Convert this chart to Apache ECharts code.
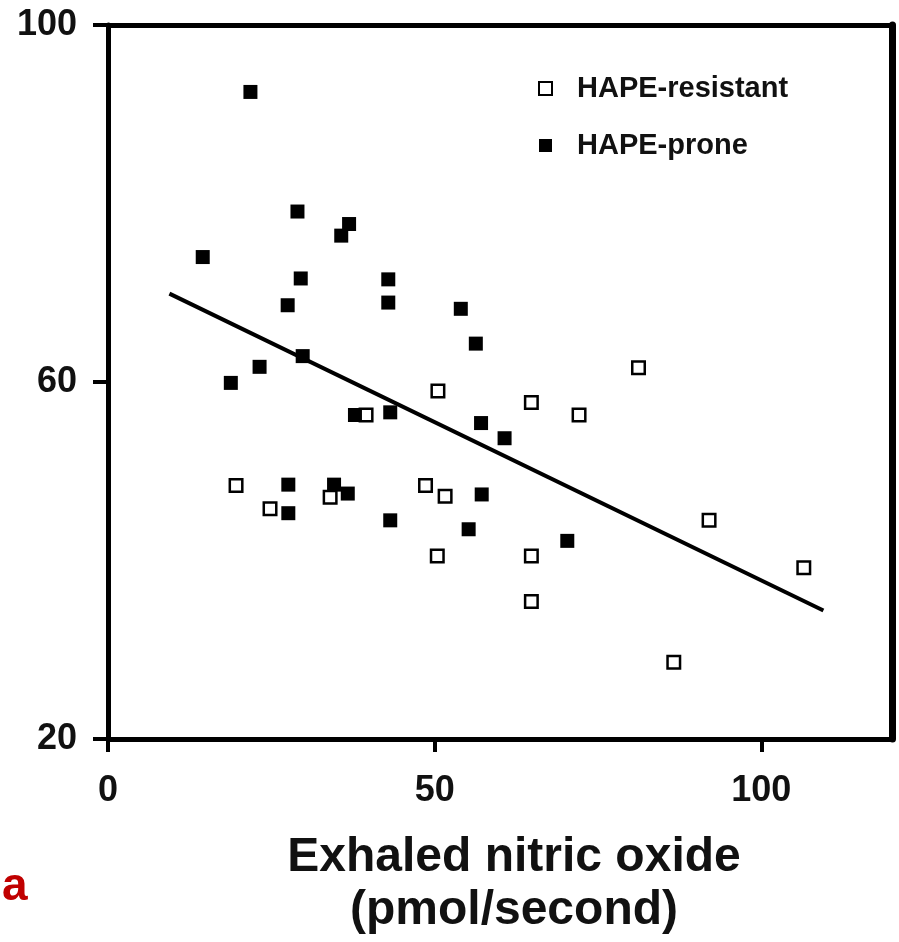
<!DOCTYPE html>
<html>
<head>
<meta charset="utf-8">
<script src="https://cdn.jsdelivr.net/npm/echarts@6/dist/echarts.min.js"></script>
<style>
html,body{margin:0;padding:0;background:#fff;}
#chart{width:899px;height:942px;}
</style>
</head>
<body>
<div id="chart"></div>
<script>
// Data
var resistantX = [19.6, 24.8, 34.0, 39.5, 48.6, 51.6, 50.5, 50.4, 64.8, 72.1, 81.2, 64.8, 64.8, 92.0, 86.6, 106.5];
var resistantY = [48.4, 45.8, 47.1, 56.3, 48.4, 47.2, 59.0, 40.5, 57.7, 56.3, 61.6, 40.5, 35.4, 44.5, 28.6, 39.2];
var proneX = [21.8, 14.5, 29.0, 36.9, 35.7, 29.5, 27.5, 42.9, 42.9, 54.0, 56.3, 29.8, 23.2, 18.8, 37.8, 43.2, 57.1, 60.7, 27.6, 34.6, 36.7, 27.6, 43.2, 57.2, 55.2, 70.3];
var proneY = [92.5, 74.0, 79.1, 77.7, 76.4, 71.6, 68.6, 71.5, 68.9, 68.2, 64.3, 62.9, 61.7, 59.9, 56.3, 56.6, 55.4, 53.7, 48.5, 48.5, 47.5, 45.3, 44.5, 47.4, 43.5, 42.2];
var trendX = [9.4, 109.5];
var trendY = [69.9, 34.4];
var xTicks = [0, 50, 100];
var yTicks = [20, 60, 100];
var seriesNames = ['HAPE-resistant', 'HAPE-prone'];
var xTitle = 'Exhaled nitric oxide\n(pmol/second)';
var panelLabel = 'a';

function zip(xs, ys) { return xs.map(function (x, i) { return [x, ys[i]]; }); }

var FONT = '"Liberation Sans", Arial, sans-serif';
var chart = echarts.init(document.getElementById('chart'), null, {renderer: 'canvas'});
chart.setOption({
  animation: false,
  backgroundColor: '#fff',
  grid: {left: 108, right: 7, top: 25, bottom: 203, containLabel: false},
  xAxis: [{
    type: 'value', min: 0, max: 120, interval: 50, position: 'bottom',
    axisLine: {show: true, onZero: false, lineStyle: {color: '#000', width: 5}},
    axisTick: {show: true, length: 13, customValues: xTicks, lineStyle: {color: '#000', width: 4}},
    axisLabel: {show: true, customValues: xTicks, margin: 34, color: '#111', fontSize: 36, fontWeight: 'bold', fontFamily: FONT},
    splitLine: {show: false}
  }, {
    type: 'value', min: 0, max: 120, position: 'top',
    axisLine: {show: true, onZero: false, lineStyle: {color: '#000', width: 5}},
    axisTick: {show: false}, axisLabel: {show: false}, splitLine: {show: false}
  }],
  yAxis: [{
    type: 'value', min: 20, max: 100, interval: 40, position: 'left',
    axisLine: {show: true, onZero: false, lineStyle: {color: '#000', width: 5}},
    axisTick: {show: true, length: 15, lineStyle: {color: '#000', width: 4}},
    axisLabel: {show: true, margin: 31, color: '#111', fontSize: 36, fontWeight: 'bold', fontFamily: FONT},
    splitLine: {show: false}
  }, {
    type: 'value', min: 20, max: 100, position: 'right',
    axisLine: {show: true, onZero: false, lineStyle: {color: '#000', width: 7}},
    axisTick: {show: false}, axisLabel: {show: false}, splitLine: {show: false}
  }],
  legend: {
    orient: 'vertical', left: 538, top: 74, itemWidth: 13, itemHeight: 13, itemGap: 28,
    padding: 0,
    data: [{name: seriesNames[0], icon: 'rect'}, {name: seriesNames[1], icon: 'rect'}],
    textStyle: {fontSize: 29, fontWeight: 'bold', color: '#111', fontFamily: FONT, padding: [0, 0, 0, 20]}
  },
  series: [{
    name: seriesNames[0], type: 'scatter', symbol: 'rect', symbolSize: 12.5,
    itemStyle: {color: '#fff', borderColor: '#000', borderWidth: 2.5, opacity: 1},
    data: zip(resistantX, resistantY), z: 3
  }, {
    name: seriesNames[1], type: 'scatter', symbol: 'rect', symbolSize: 14,
    itemStyle: {color: '#000', opacity: 1},
    data: zip(proneX, proneY), z: 3
  }, {
    name: 'trend', type: 'line', showSymbol: false, symbol: 'none',
    lineStyle: {color: '#000', width: 4}, data: zip(trendX, trendY), z: 4
  }],
  graphic: [{
    type: 'text', x: 514, y: 831,
    style: {text: xTitle, font: 'bold 48px ' + FONT, fill: '#111', align: 'center', verticalAlign: 'top', lineHeight: 53}
  }, {
    type: 'text', x: 2, y: 887,
    style: {text: panelLabel, font: 'bold 46px ' + FONT, fill: '#c00000', align: 'left', verticalAlign: 'middle'}
  }]
});
</script>
</body>
</html>
